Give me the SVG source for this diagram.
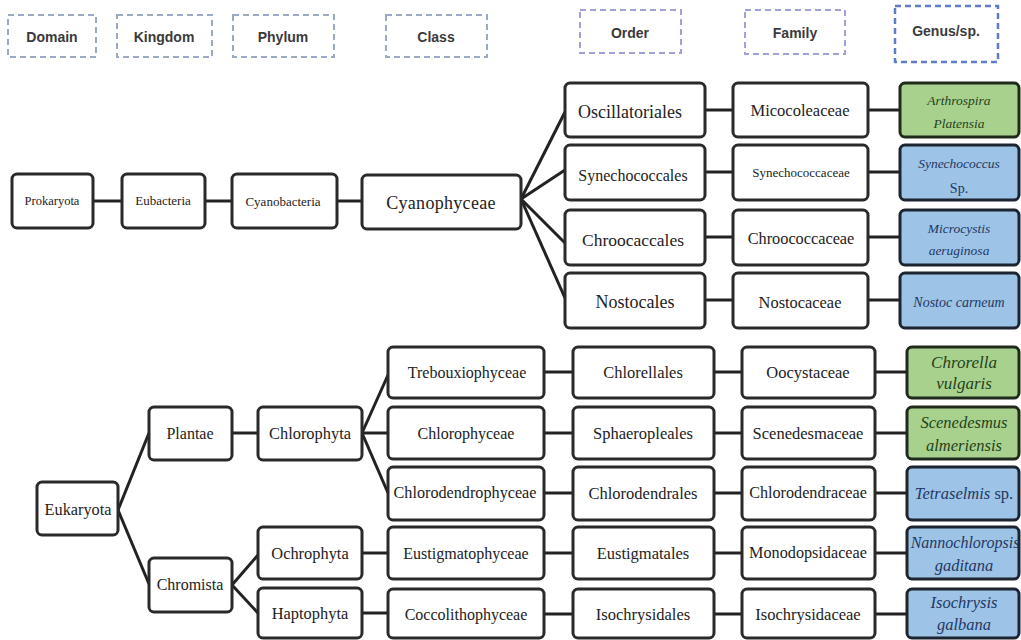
<svg xmlns="http://www.w3.org/2000/svg" width="1021" height="640" viewBox="0 0 1021 640">
<style>
.hdr{fill:#fff;stroke:#9aaac4;stroke-width:2;stroke-dasharray:6 4}
.hdr2{fill:#fff;stroke:#9ea2d8;stroke-width:2;stroke-dasharray:6 4}
.hdr3{fill:#fff;stroke:#5f7cc8;stroke-width:2.5;stroke-dasharray:6 4}
.ht{font-family:"Liberation Sans",Arial,sans-serif;font-size:14px;font-weight:bold;fill:#3a3a3a;text-anchor:middle;dominant-baseline:central}
.box{fill:#fff;stroke:#2a2a2a;stroke-width:3}
.g{fill:#a9d18e;stroke:#1f2a1a;stroke-width:3}
.b{fill:#9dc3e6;stroke:#1c2430;stroke-width:3}
.t{font-family:"Liberation Serif","Times New Roman",serif;fill:#222;text-anchor:middle;dominant-baseline:central}
.gi{font-family:"Liberation Serif","Times New Roman",serif;font-style:italic;text-anchor:middle;dominant-baseline:central}
.gt{fill:#24421c}
.bt{fill:#1f3864}
.c{stroke:#222;stroke-width:3;fill:none}
</style>
<g id="headers">
<g id="h-domain"><rect class="hdr" x="8" y="15" width="88" height="42"/><text class="ht" x="52" y="37">Domain</text></g>
<g id="h-kingdom"><rect class="hdr" x="117" y="15" width="95" height="42"/><text class="ht" x="164" y="37">Kingdom</text></g>
<g id="h-phylum"><rect class="hdr" x="233" y="15" width="101" height="42"/><text class="ht" x="283" y="37">Phylum</text></g>
<g id="h-class"><rect class="hdr" x="386" y="15" width="101" height="42"/><text class="ht" x="436" y="37">Class</text></g>
<g id="h-order"><rect class="hdr2" x="580" y="10" width="101" height="43"/><text class="ht" x="630" y="33">Order</text></g>
<g id="h-family"><rect class="hdr2" x="745" y="10" width="100" height="44"/><text class="ht" x="795" y="33">Family</text></g>
<g id="h-genus"><rect class="hdr3" x="895" y="6" width="103" height="56"/><text class="ht" x="946" y="31">Genus/sp.</text></g>
</g>
<g id="connectors">
<line class="c" x1="93" y1="201" x2="122" y2="201"/>
<line class="c" x1="205" y1="201" x2="232" y2="201"/>
<line class="c" x1="337" y1="201" x2="362" y2="201"/>
<line class="c" x1="521" y1="199" x2="565" y2="112"/>
<line class="c" x1="521" y1="199" x2="565" y2="170"/>
<line class="c" x1="521" y1="199" x2="565" y2="243"/>
<line class="c" x1="521" y1="199" x2="565" y2="298"/>
<line class="c" x1="705" y1="110" x2="733" y2="110"/>
<line class="c" x1="705" y1="172" x2="733" y2="172"/>
<line class="c" x1="705" y1="237" x2="733" y2="237"/>
<line class="c" x1="705" y1="300" x2="733" y2="300"/>
<line class="c" x1="868" y1="110" x2="900" y2="110"/>
<line class="c" x1="868" y1="172" x2="900" y2="172"/>
<line class="c" x1="868" y1="237" x2="900" y2="237"/>
<line class="c" x1="868" y1="300" x2="900" y2="300"/>
<line class="c" x1="118" y1="510" x2="149" y2="433"/>
<line class="c" x1="118" y1="510" x2="149" y2="584"/>
<line class="c" x1="232" y1="433" x2="258" y2="433"/>
<line class="c" x1="362" y1="433" x2="388" y2="375"/>
<line class="c" x1="362" y1="433" x2="388" y2="433"/>
<line class="c" x1="362" y1="433" x2="388" y2="493"/>
<line class="c" x1="232" y1="585" x2="258" y2="555"/>
<line class="c" x1="232" y1="585" x2="258" y2="613"/>
<line class="c" x1="362" y1="553" x2="388" y2="553"/>
<line class="c" x1="362" y1="613" x2="388" y2="613"/>
<line class="c" x1="544" y1="372" x2="573" y2="372"/>
<line class="c" x1="544" y1="433" x2="573" y2="433"/>
<line class="c" x1="544" y1="493" x2="573" y2="493"/>
<line class="c" x1="544" y1="553" x2="573" y2="553"/>
<line class="c" x1="544" y1="614" x2="573" y2="614"/>
<line class="c" x1="714" y1="372" x2="742" y2="372"/>
<line class="c" x1="714" y1="433" x2="742" y2="433"/>
<line class="c" x1="714" y1="493" x2="742" y2="493"/>
<line class="c" x1="714" y1="553" x2="742" y2="553"/>
<line class="c" x1="714" y1="614" x2="742" y2="614"/>
<line class="c" x1="875" y1="372" x2="907" y2="372"/>
<line class="c" x1="875" y1="433" x2="907" y2="433"/>
<line class="c" x1="875" y1="493" x2="907" y2="493"/>
<line class="c" x1="875" y1="553" x2="907" y2="553"/>
<line class="c" x1="875" y1="614" x2="907" y2="614"/>
</g>
<g id="n-prokaryota"><rect class="box" x="12" y="174" width="81" height="54" rx="5"/><text class="t" x="52" y="201" font-size="12.5">Prokaryota</text></g>
<g id="n-eubacteria"><rect class="box" x="122" y="174" width="83" height="54" rx="5"/><text class="t" x="163" y="200" font-size="13">Eubacteria</text></g>
<g id="n-cyanobacteria"><rect class="box" x="232" y="174" width="105" height="54" rx="5"/><text class="t" x="283" y="201" font-size="13">Cyanobacteria</text></g>
<g id="n-cyanophyceae"><rect class="box" x="362" y="175" width="159" height="54" rx="5"/><text class="t" x="441" y="203" font-size="18" letter-spacing="0.3">Cyanophyceae</text></g>
<g id="n-oscillatoriales"><rect class="box" x="565" y="83" width="140" height="54" rx="5"/><text class="t" x="630" y="112" font-size="18">Oscillatoriales</text></g>
<g id="n-synechococcales"><rect class="box" x="565" y="145" width="140" height="55" rx="5"/><text class="t" x="633" y="175" font-size="16">Synechococcales</text></g>
<g id="n-chroocaccales"><rect class="box" x="565" y="210" width="140" height="55" rx="5"/><text class="t" x="633" y="240" font-size="17.5">Chroocaccales</text></g>
<g id="n-nostocales"><rect class="box" x="565" y="273" width="140" height="55" rx="5"/><text class="t" x="635" y="302" font-size="18">Nostocales</text></g>
<g id="n-micocoleaceae"><rect class="box" x="733" y="83" width="135" height="54" rx="5"/><text class="t" x="800" y="110" font-size="16.5">Micocoleaceae</text></g>
<g id="n-synechococcaceae"><rect class="box" x="733" y="145" width="135" height="55" rx="5"/><text class="t" x="801" y="172" font-size="13">Synechococcaceae</text></g>
<g id="n-chroococcaceae"><rect class="box" x="733" y="210" width="135" height="55" rx="5"/><text class="t" x="801" y="238" font-size="16.3">Chroococcaceae</text></g>
<g id="n-nostocaceae"><rect class="box" x="733" y="273" width="135" height="55" rx="5"/><text class="t" x="800" y="302" font-size="16.4">Nostocaceae</text></g>
<g id="n-arthrospira"><rect class="g" x="900" y="83" width="119" height="54" rx="5"/><text class="gi gt" x="959" y="100" font-size="13.5">Arthrospira</text><text class="gi gt" x="959" y="123" font-size="13.5">Platensia</text></g>
<g id="n-synechococcus"><rect class="b" x="900" y="145" width="119" height="55" rx="5"/><text class="gi bt" x="959" y="163" font-size="13.5">Synechococcus</text><text class="t bt" x="959" y="188" font-size="14">Sp.</text></g>
<g id="n-microcystis"><rect class="b" x="900" y="210" width="119" height="55" rx="5"/><text class="gi bt" x="959" y="228" font-size="13.5">Microcystis</text><text class="gi bt" x="959" y="250" font-size="13.5">aeruginosa</text></g>
<g id="n-nostoc"><rect class="b" x="900" y="273" width="119" height="55" rx="5"/><text class="gi bt" x="959" y="302" font-size="14">Nostoc carneum</text></g>
<g id="n-eukaryota"><rect class="box" x="37" y="482" width="81" height="53" rx="5"/><text class="t" x="78" y="509" font-size="16.3">Eukaryota</text></g>
<g id="n-plantae"><rect class="box" x="149" y="407" width="83" height="53" rx="5"/><text class="t" x="190" y="433" font-size="16">Plantae</text></g>
<g id="n-chromista"><rect class="box" x="149" y="558" width="83" height="54" rx="5"/><text class="t" x="190" y="584" font-size="16">Chromista</text></g>
<g id="n-chlorophyta"><rect class="box" x="258" y="407" width="104" height="53" rx="5"/><text class="t" x="310" y="433" font-size="16.4">Chlorophyta</text></g>
<g id="n-ochrophyta"><rect class="box" x="258" y="527" width="104" height="52" rx="5"/><text class="t" x="310" y="553" font-size="16.4">Ochrophyta</text></g>
<g id="n-haptophyta"><rect class="box" x="258" y="588" width="104" height="50" rx="5"/><text class="t" x="310" y="613" font-size="16.4">Haptophyta</text></g>
<g id="n-trebouxiophyceae"><rect class="box" x="388" y="347" width="156" height="51" rx="5"/><text class="t" x="467" y="372" font-size="16">Trebouxiophyceae</text></g>
<g id="n-chlorophyceae"><rect class="box" x="388" y="407" width="156" height="52" rx="5"/><text class="t" x="466" y="433" font-size="16">Chlorophyceae</text></g>
<g id="n-chlorodendrophyceae"><rect class="box" x="388" y="467" width="156" height="53" rx="5"/><text class="t" x="465" y="493" font-size="16.2">Chlorodendrophyceae</text></g>
<g id="n-eustigmatophyceae"><rect class="box" x="388" y="527" width="156" height="52" rx="5"/><text class="t" x="466" y="553" font-size="16">Eustigmatophyceae</text></g>
<g id="n-coccolithophyceae"><rect class="box" x="388" y="589" width="156" height="49" rx="5"/><text class="t" x="466" y="614" font-size="16">Coccolithophyceae</text></g>
<g id="n-chlorellales"><rect class="box" x="573" y="347" width="141" height="51" rx="5"/><text class="t" x="643" y="372" font-size="16.5">Chlorellales</text></g>
<g id="n-sphaeropleales"><rect class="box" x="573" y="407" width="141" height="52" rx="5"/><text class="t" x="643" y="433" font-size="16.5">Sphaeropleales</text></g>
<g id="n-chlorodendrales"><rect class="box" x="573" y="467" width="141" height="53" rx="5"/><text class="t" x="643" y="493" font-size="16.5">Chlorodendrales</text></g>
<g id="n-eustigmatales"><rect class="box" x="573" y="527" width="141" height="52" rx="5"/><text class="t" x="643" y="553" font-size="16.5">Eustigmatales</text></g>
<g id="n-isochrysidales"><rect class="box" x="573" y="589" width="141" height="49" rx="5"/><text class="t" x="643" y="614" font-size="16.5">Isochrysidales</text></g>
<g id="n-oocystaceae"><rect class="box" x="742" y="347" width="133" height="51" rx="5"/><text class="t" x="808" y="372" font-size="16.5">Oocystaceae</text></g>
<g id="n-scenedesmaceae"><rect class="box" x="742" y="407" width="133" height="52" rx="5"/><text class="t" x="808" y="433" font-size="16.5">Scenedesmaceae</text></g>
<g id="n-chlorodendraceae"><rect class="box" x="742" y="467" width="133" height="53" rx="5"/><text class="t" x="808" y="493" font-size="16.2">Chlorodendraceae</text></g>
<g id="n-monodopsidaceae"><rect class="box" x="742" y="527" width="133" height="52" rx="5"/><text class="t" x="808" y="553" font-size="16.2">Monodopsidaceae</text></g>
<g id="n-isochrysidaceae"><rect class="box" x="742" y="589" width="133" height="49" rx="5"/><text class="t" x="808" y="614" font-size="16.5">Isochrysidaceae</text></g>
<g id="n-chrorella"><rect class="g" x="907" y="347" width="112" height="51" rx="5"/><text class="gi gt" x="964" y="362" font-size="17">Chrorella</text><text class="gi gt" x="964" y="383" font-size="17">vulgaris</text></g>
<g id="n-scenedesmus"><rect class="g" x="907" y="407" width="112" height="52" rx="5"/><text class="gi gt" x="964" y="422" font-size="16.5">Scenedesmus</text><text class="gi gt" x="964" y="445" font-size="16.5">almeriensis</text></g>
<g id="n-tetraselmis"><rect class="b" x="907" y="467" width="112" height="53" rx="5"/><text class="gi bt" x="964" y="493" font-size="16.5">Tetraselmis <tspan font-style="normal">sp.</tspan></text></g>
<g id="n-nannochloropsis"><rect class="b" x="907" y="527" width="112" height="52" rx="5"/><text class="gi bt" x="965" y="542" font-size="16">Nannochloropsis</text><text class="gi bt" x="964" y="565" font-size="16.5">gaditana</text></g>
<g id="n-isochrysis"><rect class="b" x="907" y="589" width="112" height="49" rx="5"/><text class="gi bt" x="964" y="602" font-size="16.5">Isochrysis</text><text class="gi bt" x="964" y="624" font-size="16.5">galbana</text></g>
</svg>
